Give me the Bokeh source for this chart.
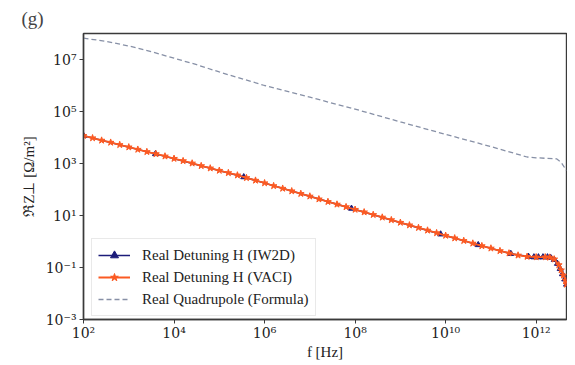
import numpy as np
from bokeh.plotting import figure
from bokeh.models import FixedTicker, Legend, LegendItem, Title
from bokeh.embed import file_html
from bokeh.resources import INLINE

# ---- data (log10 values) ----
iw2d_logf = [2.0, 3.59, 5.54, 7.92, 9.89, 10.72, 11.44, 11.83, 11.95, 12.05, 12.15,
             12.25, 12.32, 12.40, 12.47, 12.53, 12.58, 12.63, 12.67]
iw2d_logz = [4.07, 3.37, 2.48, 1.27, 0.28, -0.13, -0.47, -0.58, -0.60, -0.60, -0.60,
             -0.60, -0.62, -0.70, -0.85, -1.05, -1.25, -1.45, -1.65]

vaci_logf = [2.0, 2.2, 2.4, 2.6, 2.8, 3.0, 3.2, 3.4, 3.6, 3.8, 4.0, 4.2, 4.4, 4.6, 4.8,
             5.0, 5.2, 5.4, 5.6, 5.8, 6.0, 6.2, 6.4, 6.6, 6.8, 7.0, 7.2, 7.4, 7.6, 7.8,
             8.0, 8.2, 8.4, 8.6, 8.8, 9.0, 9.2, 9.4, 9.6, 9.8, 10.0, 10.2, 10.4, 10.6,
             10.8, 11.0, 11.2, 11.4, 11.6, 11.8, 12.0, 12.2, 12.3, 12.4, 12.5, 12.55,
             12.6, 12.65, 12.67]
vaci_logz = [4.07, 3.98, 3.89, 3.81, 3.72, 3.63, 3.54, 3.45, 3.37, 3.28, 3.19, 3.10,
             3.01, 2.91, 2.82, 2.73, 2.64, 2.55, 2.45, 2.35, 2.25, 2.14, 2.04, 1.94,
             1.84, 1.74, 1.63, 1.53, 1.43, 1.33, 1.23, 1.13, 1.03, 0.93, 0.83, 0.73,
             0.63, 0.53, 0.43, 0.33, 0.23, 0.13, 0.03, -0.07, -0.17, -0.26, -0.36,
             -0.45, -0.53, -0.58, -0.60, -0.60, -0.61, -0.68, -0.90, -1.10, -1.30,
             -1.50, -1.65]

quad_logf = [2.0, 2.5, 3.0, 3.5, 4.0, 4.5, 5.0, 6.0, 7.0, 8.0, 9.0, 10.0, 11.0, 11.5,
             11.8, 12.0, 12.2, 12.45, 12.55, 12.67]
quad_logz = [7.82, 7.70, 7.52, 7.30, 7.05, 6.80, 6.52, 6.00, 5.55, 5.09, 4.60, 4.12,
             3.65, 3.40, 3.25, 3.22, 3.20, 3.18, 3.05, 2.73]

x_ticks = [1e2, 1e4, 1e6, 1e8, 1e10, 1e12]
x_tick_labels = ["10²", "10⁴", "10⁶", "10⁸", "10¹⁰", "10¹²"]
y_ticks = [1e-3, 1e-1, 1e1, 1e3, 1e5, 1e7]
y_tick_labels = ["10⁻³", "10⁻¹", "10¹", "10³", "10⁵", "10⁷"]

labels = ["Real Detuning H (IW2D)", "Real Detuning H (VACI)", "Real Quadrupole (Formula)"]

def p10(a):
    return [10.0 ** v for v in a]

FONT = "Liberation Serif"
TICK_FONT = "DejaVu Serif"

p = figure(width=567, height=362, x_axis_type="log", y_axis_type="log",
           x_range=(1e2, 10 ** 12.67), y_range=(1e-3, 1e8),
           output_backend="svg", toolbar_location=None,
           min_border_left=83, min_border_right=1, min_border_top=32,
           min_border_bottom=10)
p.title = Title(text="(g)", text_font=FONT, text_font_size="19px",
                text_font_style="normal", align="left", offset=-62)

p.grid.visible = False
p.outline_line_color = "#3a3a3a"
p.outline_line_width = 1.4

for ax in (p.xaxis[0], p.yaxis[0]):
    ax.axis_line_color = "#3a3a3a"
    ax.axis_line_width = 1.4
    ax.major_tick_line_color = "#3a3a3a"
    ax.major_tick_out = 4
    ax.major_tick_in = 0
    ax.minor_tick_out = 0
    ax.minor_tick_in = 0
    ax.major_label_text_font = TICK_FONT
    ax.major_label_text_font_size = "14px"
    ax.major_label_text_color = "#222222"
    ax.axis_label_text_font = FONT
    ax.axis_label_text_font_size = "15px"
    ax.axis_label_text_font_style = "normal"
    ax.axis_label_text_color = "#222222"

p.xaxis.major_label_standoff = 1
p.yaxis.major_label_standoff = 3
p.xaxis.ticker = FixedTicker(ticks=x_ticks)
p.yaxis.ticker = FixedTicker(ticks=y_ticks)
p.xaxis.major_label_overrides = {t: l for t, l in zip(x_ticks, x_tick_labels)}
p.yaxis.major_label_overrides = {t: l for t, l in zip(y_ticks, y_tick_labels)}
p.xaxis.axis_label = "f [Hz]"
p.yaxis.axis_label = "ℜZ⊥ [Ω/m²]"
p.xaxis.axis_label_standoff = 0
p.yaxis.axis_label_standoff = 6

navy = "#1c1c7a"
orange = "#fb5a23"
grey = "#8790a6"

l1 = p.line(p10(iw2d_logf), p10(iw2d_logz), line_color=navy, line_width=1.5)
m1 = p.scatter(p10(iw2d_logf), p10(iw2d_logz), marker="triangle", size=6,
               fill_color=navy, line_color=navy)
l2 = p.line(p10(vaci_logf), p10(vaci_logz), line_color=orange, line_width=1.8)
m2 = p.scatter(p10(vaci_logf), p10(vaci_logz), marker="star", size=7,
               fill_color=orange, line_color=orange)
l3 = p.line(p10(quad_logf), p10(quad_logz), line_color=grey, line_width=1.3,
            line_dash="5 3")

legend = Legend(items=[LegendItem(label=labels[0], renderers=[l1, m1]),
                       LegendItem(label=labels[1], renderers=[l2, m2]),
                       LegendItem(label=labels[2], renderers=[l3])],
                location=(8, 3))
legend.label_text_font = FONT
legend.label_text_font_size = "15px"
legend.label_text_color = "#222222"
legend.border_line_color = "#d4d4d4"
legend.border_line_width = 1
legend.background_fill_alpha = 0.85
legend.glyph_width = 32
legend.glyph_height = 20
legend.label_standoff = 12
legend.spacing = 2
legend.padding = 6
legend.margin = 0
p.add_layout(legend)

open("out.html", "w").write(file_html(p, INLINE))
